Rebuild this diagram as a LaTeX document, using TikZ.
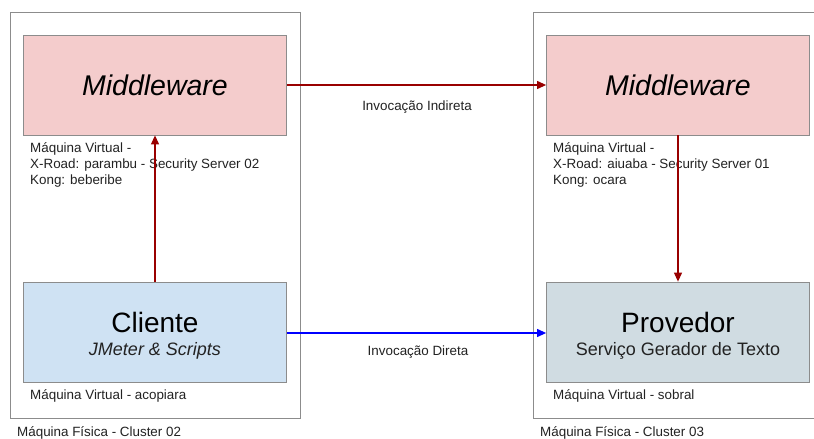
\documentclass[tikz,border=0pt]{standalone}
\usepackage{fontspec}
\setmainfont{Liberation Sans}
\usetikzlibrary{arrows.meta}
\definecolor{mwfill}{HTML}{F4CCCC}
\definecolor{clfill}{HTML}{CFE2F3}
\definecolor{prfill}{HTML}{D0DCE2}
\definecolor{edge}{HTML}{8C8C8C}
\definecolor{darkred}{HTML}{990000}
\definecolor{txt}{HTML}{222222}
\tikzset{
  host/.style={draw=edge, line width=0.8pt},
  vm/.style={draw=edge, line width=0.8pt, minimum width=263pt, minimum height=100pt, inner sep=0pt, align=center},
  title/.style={inner sep=0pt, font=\fontsize{28}{30}\selectfont},
  subtitle/.style={inner sep=0pt, text=txt, font=\fontsize{18}{20}\selectfont},
  note/.style={anchor=north west, align=left, inner sep=0pt, text=txt,
    font=\fontsize{13.4}{16}\selectfont},
  caption/.style={anchor=west, inner sep=0pt, text=txt, font=\fontsize{13.4}{16}\selectfont},
  flow/.style={line width=1.1pt, -{Triangle[length=9pt, width=8pt]}},
  flowlabel/.style={inner sep=0pt, text=txt, font=\fontsize{13.4}{15}\selectfont},
}
\begin{document}
\begin{tikzpicture}[x=1pt, y=-1pt]
\useasboundingbox (0,0) rectangle (814,439);
\clip (0,0) rectangle (814,439);
\fill[white] (0,0) rectangle (814,439);

% physical hosts
\draw[host] (10,12) rectangle (300,418);
\draw[host] (533,12) rectangle (830,418);

% virtual machines
\node[vm, fill=mwfill] (mwA) at (155,85) {};
\node[vm, fill=mwfill] (mwB) at (678,85) {};
\node[vm, fill=clfill] (cli) at (155,332) {};
\node[vm, fill=prfill] (prov) at (678,332) {};

\node[title, font=\fontsize{28.5}{30}\selectfont\itshape] (tA) at (mwA) {Middleware};
\node[title, font=\fontsize{28.5}{30}\selectfont\itshape] (tB) at (mwB) {Middleware};
\node[title] (tC) at (155,322) {Cliente};
\node[subtitle, font=\fontsize{18}{20}\selectfont\itshape] (sC) at (155,351) {JMeter \& Scripts};
\node[title] (tD) at (678,322) {Provedor};
\node[subtitle] (sD) at (678,351) {Serviço Gerador de Texto};

% descriptions under each VM
\node[note] (dA) at (30,142) {Máquina Virtual -\\X-Road: parambu - Security Server 02\\Kong: beberibe};
\node[note] (dB) at (553,142) {Máquina Virtual -\\X-Road: aiuaba - Security Server 01\\Kong: ocara};
\node[note] (dC) at (30,389) {Máquina Virtual - acopiara};
\node[note] (dD) at (553,389) {Máquina Virtual - sobral};

% host captions
\node[caption] (hA) at (17,433) {Máquina Física - Cluster 02};
\node[caption] (hB) at (540,433) {Máquina Física - Cluster 03};

% invocations
\draw[flow, darkred] (cli.north) -- (mwA.south);
\draw[flow, darkred] (mwA.east) -- (mwB.west);
\draw[flow, darkred] (mwB.south) -- (prov.north);
\draw[flow, blue] (cli.east |- 0,333) coordinate (dS) -- (prov.west |- dS);

\node[flowlabel] (lInd) at (417,107) {Invocação Indireta};
\node[flowlabel] (lDir) at (418,352) {Invocação Direta};
\end{tikzpicture}
\end{document}
